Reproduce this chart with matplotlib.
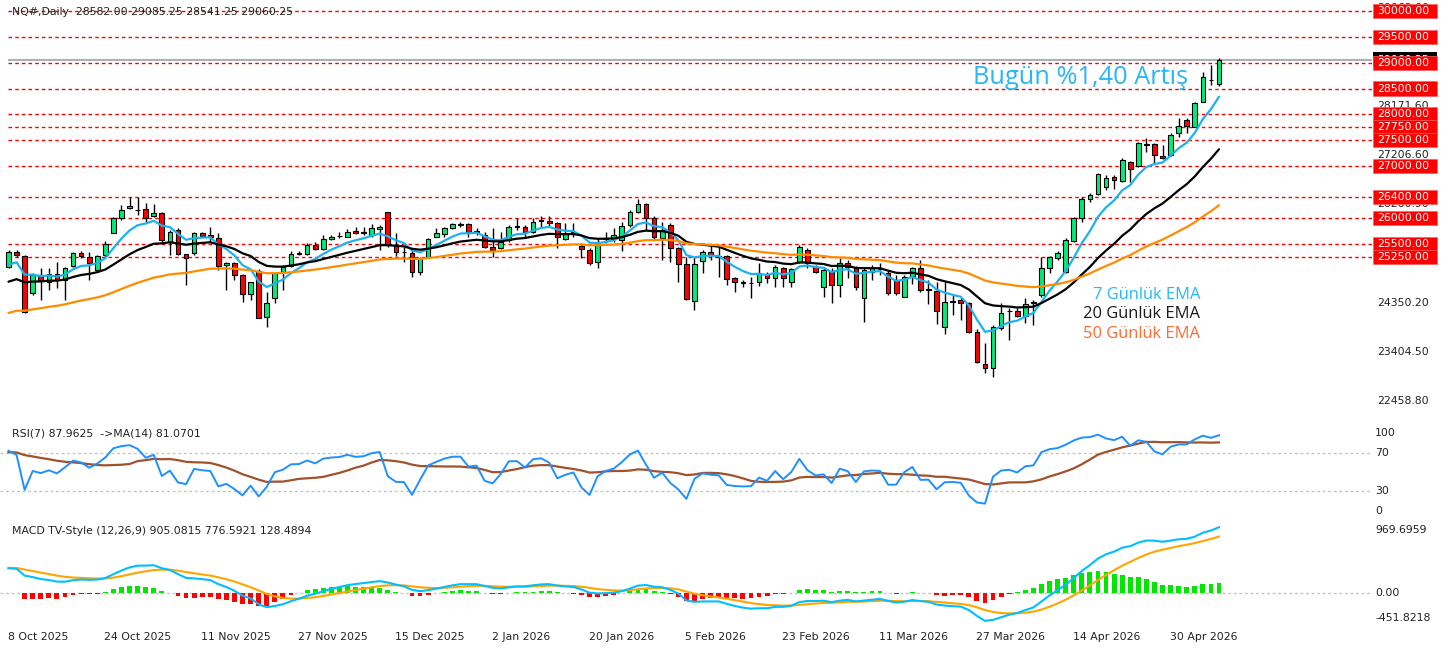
import numpy as np
import matplotlib
matplotlib.use("Agg")
import matplotlib.pyplot as plt
from matplotlib.patches import Rectangle
from matplotlib.transforms import blended_transform_factory

plt.rcParams['font.family'] = ['DejaVu Sans']

# ---------------- data ----------------
symbol_title = "NQ#,Daily"
header_ohlc = [28582.00, 29085.25, 28541.25, 29060.25]

date_labels = ["8 Oct 2025", "24 Oct 2025", "11 Nov 2025", "27 Nov 2025", "15 Dec 2025",
               "2 Jan 2026", "20 Jan 2026", "5 Feb 2026", "23 Feb 2026", "11 Mar 2026",
               "27 Mar 2026", "14 Apr 2026", "30 Apr 2026"]
date_label_bars = [0, 12, 24, 36, 48, 60, 72, 84, 96, 108, 120, 132, 144]

opens = [25057, 25347, 25263, 24541, 24896, 24767, 24915, 24799, 25070, 25327,
         25250, 24992, 25282, 25714, 25991, 26185, 26152, 26165, 26036, 26101,
         25540, 25766, 25302, 25314, 25714, 25669, 25605, 25089, 25134, 24896,
         24522, 24979, 24090, 24444, 24960, 25070, 25310, 25302, 25476, 25398,
         25592, 25645, 25637, 25753, 25710, 25669, 25778, 26107, 25456, 25347,
         25327, 24960, 25250, 25637, 25682, 25811, 25870, 25875, 25733, 25669,
         25443, 25411, 25572, 25830, 25830, 25733, 25946, 25946, 25894, 25585,
         25714, 25456, 25379, 25153, 25600, 25585, 25572, 25862, 26107, 26268,
         25991, 25605, 25862, 25411, 25108, 24399, 25166, 25347, 25250, 25263,
         24831, 24767, 24734, 24767, 24915, 24831, 25024, 24767, 25153, 25379,
         25044, 24670, 24960, 24702, 25134, 25024, 24444, 24960, 25005, 24928,
         24799, 24477, 24876, 25037, 24619, 24586, 23897, 24380, 24412, 24360,
         23800, 23175, 23090, 23864, 24193, 24206, 24103, 24360, 24509, 25024,
         25218, 24960, 25559, 25991, 26365, 26462, 26603, 26797, 26720, 27074,
         27003, 27410, 27429, 27203, 27216, 27647, 27892, 27763, 28247, 28665,
         28582.00]
highs = [25380, 25380, 25282, 24928, 25024, 25024, 25153, 25044, 25347, 25360,
         25347, 25282, 25553, 26023, 26249, 26397, 26397, 26281, 26262, 26120,
         25766, 25798, 25302, 25733, 25733, 25830, 25714, 25153, 25153, 24908,
         24767, 25005, 24573, 24960, 25089, 25360, 25360, 25508, 25540, 25669,
         25669, 25733, 25778, 25830, 25830, 25875, 25862, 26107, 25701, 25443,
         25379, 25250, 25605, 25798, 25830, 25907, 25927, 25894, 25798, 25733,
         25798, 25733, 25862, 25991, 25862, 25991, 26036, 26043, 25927, 25894,
         25894, 25508, 25411, 25605, 25733, 25798, 25927, 26152, 26365, 26294,
         26036, 25927, 25894, 25443, 25250, 25250, 25379, 25475, 25476, 25282,
         24863, 24799, 24863, 25121, 24960, 25089, 25044, 25024, 25476, 25411,
         25089, 25024, 25024, 25218, 25186, 25070, 25024, 25089, 25134, 24992,
         24895, 24895, 25057, 25186, 24799, 24767, 24767, 24509, 24444, 24380,
         23845, 23574, 23929, 24348, 24251, 24251, 24444, 24412, 25250, 25263,
         25360, 25605, 26023, 26397, 26487, 26874, 26829, 26829, 27151, 27107,
         27474, 27538, 27454, 27409, 27634, 27925, 27925, 28247, 28827, 28956,
         29085.25]
lows = [25040, 25250, 24154, 24509, 24412, 24606, 24638, 24412, 25044, 25218,
        24799, 24960, 25250, 25701, 25959, 26165, 26056, 25927, 26023, 25508,
        25282, 25282, 24702, 25282, 25637, 25540, 24992, 24606, 24799, 24380,
        24412, 24058, 23897, 24348, 24606, 25044, 25282, 25282, 25379, 25379,
        25572, 25605, 25624, 25688, 25669, 25637, 25379, 25443, 25263, 25153,
        24863, 24895, 25234, 25624, 25637, 25778, 25830, 25624, 25669, 25411,
        25250, 25392, 25540, 25766, 25624, 25701, 25830, 25830, 25411, 25572,
        25624, 25218, 25089, 25024, 25508, 25540, 25366, 25830, 26088, 25766,
        25572, 25186, 25153, 24767, 24412, 24219, 24941, 25186, 24863, 24702,
        24573, 24670, 24444, 24683, 24734, 24670, 24657, 24670, 25121, 25024,
        24941, 24477, 24348, 24477, 24831, 24606, 23993, 24799, 24895, 24509,
        24509, 24464, 24721, 24573, 24335, 23948, 23755, 24122, 24026, 23768,
        23200, 22994, 22930, 23832, 23639, 24077, 23961, 23929, 24477, 24928,
        25186, 24941, 25540, 25927, 26313, 26442, 26539, 26552, 26700, 26700,
        26990, 27280, 27055, 27132, 27196, 27570, 27634, 27750, 28247, 28569,
        28541.25]
closes = [25347, 25282, 24187, 24896, 24799, 24915, 24799, 25024, 25314, 25263,
          25121, 25263, 25495, 26004, 26152, 26230, 26160, 25991, 26101, 25572,
          25733, 25302, 25231, 25701, 25656, 25637, 25070, 25134, 24896, 24528,
          24767, 24058, 24348, 24928, 25044, 25302, 25318, 25476, 25398, 25592,
          25637, 25655, 25733, 25701, 25718, 25798, 25830, 25476, 25347, 25340,
          24960, 25218, 25585, 25701, 25811, 25875, 25878, 25720, 25740, 25443,
          25379, 25540, 25830, 25836, 25733, 25927, 25952, 25894, 25624, 25682,
          25720, 25392, 25121, 25476, 25610, 25669, 25843, 26107, 26268, 25991,
          25624, 25766, 25411, 25108, 24425, 25102, 25347, 25282, 25256, 24812,
          24754, 24734, 24740, 24928, 24831, 25057, 24831, 25005, 25443, 25134,
          24960, 24992, 24702, 25121, 25044, 24657, 24992, 25024, 25010, 24541,
          24541, 24863, 25024, 24606, 24612, 24206, 24380, 24387, 24360, 23800,
          23220, 23090, 23897, 24167, 24200, 24103, 24335, 24368, 25024, 25237,
          25314, 25572, 25991, 26365, 26442, 26842, 26764, 26732, 27119, 26939,
          27454, 27420, 27216, 27151, 27602, 27776, 27776, 28215, 28717, 28672,
          29060.25]

level_prices = [30000, 29500, 29000, 28500, 28000, 27750, 27500, 27000, 26400, 26000, 25500, 25250]
axis_ticks = [22458.80, 23404.50, 24350.20, 26260.90, 27206.60, 28171.60, 30063.00]
last_price = 29060.25
main_range = (22130.7, 30212.7)

ema_periods = [7, 20, 50]
ema_start_values = [25095.0, 24766.0, 24161.0]
ema_colors = ['#1cb2f0', '#000000', '#ff8c00']
ema_names = ["7 Günlük EMA", "20 Günlük EMA", "50 Günlük EMA"]
ema_name_colors = ['#29b6f6', '#1a1a1a', '#ff6a33']

rsi_period = 7
rsi_ma_period = 14
rsi_start_avg_gain = 120.0
rsi_start_avg_loss = 45.0
rsi_ma_warmup = 71.0
rsi_levels = [70, 30]
rsi_title = "RSI(7) 87.9625  ->MA(14) 81.0701"

macd_fast, macd_slow, macd_sig = 12, 26, 9
macd_fast_start = 25040.0
macd_slow_start = 24702.0
macd_signal_start = 345.0
macd_title = "MACD TV-Style (12,26,9) 905.0815 776.5921 128.4894"
macd_range = (-451.8218, 969.6959)

annotation_text = "Bugün %1,40 Artış"

# ---------------- layout (pixels) ----------------
FW, FH = 1455, 650
PLOT_R = 1372
BAR0_PX, BAR_STEP = 8.5, 8.07
XL = (-BAR0_PX / BAR_STEP, (PLOT_R - BAR0_PX) / BAR_STEP)


def fx(x):
    return x / FW


def fy(y):
    return 1 - y / FH


fig = plt.figure(figsize=(FW / 100, FH / 100), dpi=100)
fig.patch.set_facecolor('white')


def add_panel(top_px, bottom_px, ylim):
    ax = fig.add_axes([0, 1 - bottom_px / FH, PLOT_R / FW, (bottom_px - top_px) / FH])
    ax.set_xlim(XL)
    ax.set_ylim(ylim)
    ax.axis('off')
    return ax


o = np.array(opens, float)
h = np.array(highs, float)
l = np.array(lows, float)
c = np.array(closes, float)
n = len(c)
x = np.arange(n)


def ema_series(values, period, start):
    a = 2.0 / (period + 1)
    out = np.empty(len(values))
    out[0] = start
    for i in range(1, len(values)):
        out[i] = a * values[i] + (1 - a) * out[i - 1]
    return out


# ---------------- main panel ----------------
ax = add_panel(0, 418, main_range)
axis_font = 7.8
txt_col = '#222222'
tr = blended_transform_factory(ax.transAxes, ax.transData)
px_per_unit = 418 / (main_range[1] - main_range[0])

x_line_start = (8 - BAR0_PX) / BAR_STEP
ax.hlines(level_prices, x_line_start, XL[1], colors='#ff0000', linewidth=1.0,
          linestyles=(0, (2.6, 2.2)), zorder=1)
ax.hlines([last_price], x_line_start, XL[1], colors='#a9b1ba', linewidth=1.5, zorder=1)

ax.vlines(x, l, h, color='black', linewidth=1.0, zorder=3)
up = c >= o
body_bot = np.minimum(o, c)
body_h = np.maximum(np.abs(c - o), 4)
ax.bar(x[up], body_h[up], bottom=body_bot[up], width=0.58, color='#00ec78',
       edgecolor='black', linewidth=0.8, zorder=4)
ax.bar(x[~up], body_h[~up], bottom=body_bot[~up], width=0.58, color='#ff0000',
       edgecolor='black', linewidth=0.8, zorder=4)

for per, st, col in zip(ema_periods, ema_start_values, ema_colors):
    e = ema_series(c, per, st)
    ax.plot(x, e, color=col, linewidth=1.6, zorder=5, solid_capstyle='round')

# axis tick labels
ax_lbl_x = 1377 / PLOT_R
for t in axis_ticks:
    ax.text(ax_lbl_x, t, f"{t:.2f}", transform=tr, fontsize=axis_font, color=txt_col,
            va='center', ha='left', clip_on=False, zorder=6)

box_h = 14.3 / px_per_unit
box_x0 = 1373 / PLOT_R
box_w = (1437 - 1373) / PLOT_R
ax.add_patch(Rectangle((box_x0, last_price - box_h / 2), box_w, box_h, transform=tr,
                       facecolor='black', edgecolor='none', clip_on=False, zorder=7))
ax.text(ax_lbl_x, last_price, f"{last_price:.2f}", transform=tr, fontsize=axis_font,
        color='white', va='center', ha='left', clip_on=False, zorder=8)
for p in level_prices:
    ax.add_patch(Rectangle((box_x0, p - box_h / 2), box_w, box_h, transform=tr,
                           facecolor='#ff0000', edgecolor='#ff6060', linewidth=0.5,
                           clip_on=False, zorder=9))
    ax.text(ax_lbl_x, p, f"{p:.2f}", transform=tr, fontsize=axis_font, color='white',
            va='center', ha='left', clip_on=False, zorder=10)

head = symbol_title + "  " + " ".join(f"{v:.2f}" for v in header_ohlc)
fig.text(fx(12), fy(12), head, fontsize=axis_font, color=txt_col, va='center', ha='left')

fig.text(fx(973), fy(77), annotation_text, fontsize=18.3, family='Open Sans',
         color='#29b6f6', va='center', ha='left')
for name, col, yy in zip(ema_names, ema_name_colors, [295, 314, 334]):
    fig.text(fx(1200), fy(yy), name, fontsize=11.9, family='Open Sans', color=col,
             va='center', ha='right')

# ---------------- RSI panel ----------------
axr = add_panel(425.3, 518.7, (0, 100))
p = rsi_period
g, lo = rsi_start_avg_gain, rsi_start_avg_loss
rsi = [100 - 100 / (1 + g / lo)]
for i in range(1, n):
    d = c[i] - c[i - 1]
    g = (g * (p - 1) + max(d, 0)) / p
    lo = (lo * (p - 1) + max(-d, 0)) / p
    rsi.append(100 - 100 / (1 + g / lo) if lo > 0 else 100.0)
rsi = np.array(rsi)
padded = np.concatenate([np.full(rsi_ma_period - 1, rsi_ma_warmup), rsi])
rsi_ma = np.convolve(padded, np.ones(rsi_ma_period) / rsi_ma_period, mode='valid')

axr.hlines(rsi_levels, XL[0], XL[1], colors='#c4c4c4', linewidth=1.0,
           linestyles=(0, (2, 2)), zorder=1)
axr.plot(x, rsi_ma, color='#a0522d', linewidth=1.6, zorder=3)
axr.plot(x, rsi, color='#1e90ff', linewidth=1.4, zorder=4)
trr = blended_transform_factory(axr.transAxes, axr.transData)
rx = 1375 / PLOT_R
fig.text(fx(1375), fy(433), "100", fontsize=axis_font, color=txt_col, va='center', ha='left')
for lv in rsi_levels:
    axr.text(rx, lv, f"{lv}", transform=trr, fontsize=axis_font, color=txt_col,
             va='center', ha='left', clip_on=False)
fig.text(fx(1375), fy(511), "0", fontsize=axis_font, color=txt_col, va='center', ha='left')
fig.text(fx(12), fy(434), rsi_title, fontsize=axis_font, color=txt_col, va='center', ha='left')

# ---------------- MACD panel ----------------
axm = add_panel(523, 625, macd_range)
fast = ema_series(c, macd_fast, macd_fast_start)
slow = ema_series(c, macd_slow, macd_slow_start)
macd = fast - slow
signal = ema_series(macd, macd_sig, macd_signal_start)
hist = macd - signal

axm.hlines([0], XL[0], XL[1], colors='#c4c4c4', linewidth=1.0,
           linestyles=(0, (2, 2)), zorder=1)
hcol = np.where(hist >= 0, '#00e600', '#ff0000')
hh = np.where(np.abs(hist) < 8, np.sign(hist + 1e-9) * 8, hist)
axm.bar(x, hh, width=0.6, color=hcol, linewidth=0, zorder=2)
axm.plot(x, signal, color='#ffa500', linewidth=1.5, zorder=3)
axm.plot(x, macd, color='#00bfff', linewidth=1.5, zorder=4)
fig.text(fx(1375), fy(530), f"{macd_range[1]:.4f}", fontsize=axis_font, color=txt_col,
         va='center', ha='left')
trm = blended_transform_factory(axm.transAxes, axm.transData)
axm.text(rx, 0, "0.00", transform=trm, fontsize=axis_font, color=txt_col,
         va='center', ha='left', clip_on=False)
fig.text(fx(1375), fy(618), f"{macd_range[0]:.4f}", fontsize=axis_font, color=txt_col,
         va='center', ha='left')
fig.text(fx(12), fy(531), macd_title, fontsize=axis_font, color=txt_col, va='center', ha='left')

# ---------------- date axis ----------------
for lab, b in zip(date_labels, date_label_bars):
    fig.text(fx(BAR0_PX + BAR_STEP * b - 1), fy(637), lab, fontsize=axis_font,
             color=txt_col, va='center', ha='left')

fig.savefig('out.png', dpi=100, facecolor='white')
